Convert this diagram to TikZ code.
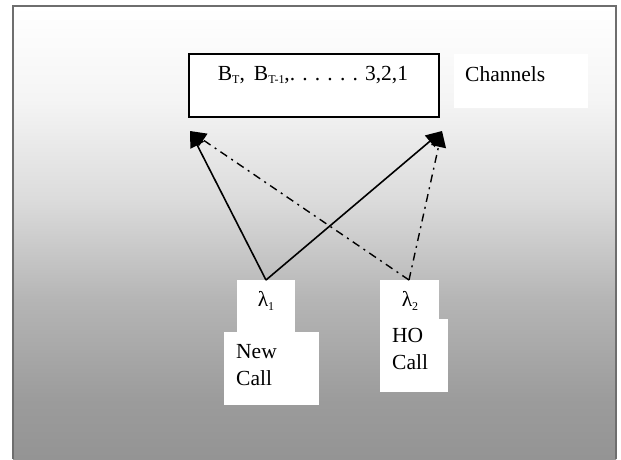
\documentclass[tikz,border=0pt]{standalone}
\usepackage{fontspec}
\setmainfont{Liberation Serif}
\usetikzlibrary{arrows.meta}

% background: white at the top, fading to mid grey at the bottom
\pgfdeclareverticalshading{panelfade}{100bp}{%
  color(0bp)=(black!42);
  color(25bp)=(black!42);
  color(31.5bp)=(black!39);
  color(42.6bp)=(black!29);
  color(53.6bp)=(black!14);
  color(64.7bp)=(black!4);
  color(75bp)=(white);
  color(100bp)=(white)}

\newcommand{\sub}[1]{\raisebox{-0.35ex}{\fontsize{12}{12}\selectfont #1}}

\begin{document}
\begin{tikzpicture}[x=1pt,y=-1pt,
  txt/.style={font=\fontsize{21.5}{27}\selectfont, inner sep=0pt},
  flow/.style={line width=1.6pt, -{Triangle[length=16pt,width=15pt]}},
  dashflow/.style={line width=1.4pt, dash pattern=on 8pt off 5pt on 2pt off 5pt,
                   -{Triangle[length=16pt,width=15pt]}}]
  \useasboundingbox (0,0) rectangle (621,459);
  \fill[white] (0,0) rectangle (621,459);

  % shaded panel with its grey frame (open at the bottom)
  \shade[shading=panelfade] (13,6) rectangle (616,459);
  \draw[line width=2.2pt, black!57] (13,459) -- (13,6) -- (616,6) -- (616,459);

  % channel box
  \draw[line width=1.8pt, fill=white] (189,54) rectangle (439,117);
  \node[txt] (chan) at (313,75)
    {B\sub{T},\hspace{9pt}B\sub{T-1},. . . . . . 3,2,1};
  \coordinate (tipL) at (190,131);
  \coordinate (tipR) at (442,131);

  % label beside the channel box
  \fill[white] (454,54) rectangle (588,108);
  \node[txt, anchor=west] (chlabel) at (465,74) {Channels};

  % arrival streams
  \fill[white] (237,280) rectangle (295,332);
  \fill[white] (224,332) rectangle (319,405);
  \fill[white] (380,280) rectangle (439,319);
  \fill[white] (380,319) rectangle (448,392);

  \node[txt] (lamA) at (266,301) {λ\sub{1}};
  \node[txt] (lamB) at (410,301) {λ\sub{2}};
  \node[txt, anchor=north west, align=left] (newcall) at (236,344) {New\\Call};
  \node[txt, anchor=north west, align=left] (hocall) at (392,328) {HO\\Call};

  \coordinate (srcA) at (266,280);
  \coordinate (srcB) at (409,280);

  \draw[dashflow] (srcB) -- (tipL);
  \draw[dashflow] (srcB) -- (tipR);
  \draw[flow] (srcA) -- (tipL);
  \draw[flow] (srcA) -- (tipR);
\end{tikzpicture}
\end{document}
